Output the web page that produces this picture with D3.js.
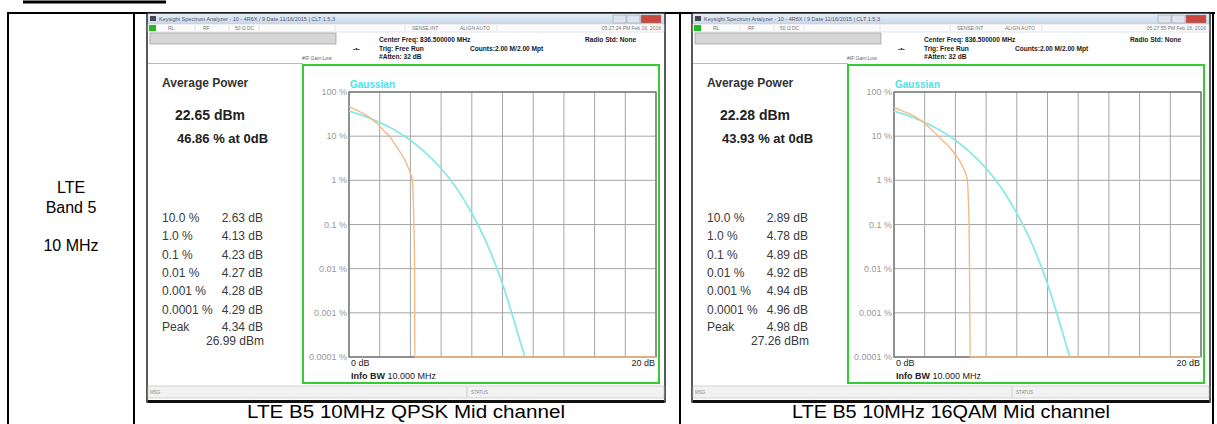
<!DOCTYPE html>
<meta charset="utf-8">
<style>
body { margin: 0; background: #fff; }
svg { font-family: "Liberation Sans", Arial, sans-serif; display: block; }
</style>
<svg width="1217" height="424"></svg>
<script src="https://cdn.jsdelivr.net/npm/d3@7/dist/d3.min.js"></script>
<script>

// ---- data ----
var rowLabels = ["LTE", "Band 5", "10 MHz"]
var captions = ["LTE B5 10MHz QPSK Mid channel", "LTE B5 10MHz 16QAM Mid channel"]
var timestamps = ["05:27:24 PM Feb 16, 2016", "05:27:55 PM Feb 16, 2016"]

var yTicks = [100, 10, 1, 0.1, 0.01, 0.001, 0.0001]
var yTickLabels = ["100 %", "10 %", "1 %", "0.1 %", "0.01 %", "0.001 %", "0.0001 %"]
var xGrid = [0, 2, 4, 6, 8, 10, 12, 14, 16, 18, 20]

var statLabels = ["10.0 %", "1.0 %", "0.1 %", "0.01 %", "0.001 %", "0.0001 %"]
var qpskStats = [2.63, 4.13, 4.23, 4.27, 4.28, 4.29]
var qamStats = [2.89, 4.78, 4.89, 4.92, 4.94, 4.96]
var avgPower = [22.65, 22.28]
var atZero = [46.86, 43.93]
var peakDb = [4.34, 4.98]
var peakDbm = [26.99, 27.26]

// [dB, %] points
var gaussian = [[0, 36.8], [1, 28.4], [2, 20.5], [3, 13.6], [4, 8.1], [5, 4.2], [6, 1.87],
  [7, 0.67], [8, 0.18], [9, 0.036], [10, 0.0045], [10.5, 0.0013], [11, 0.00034], [11.45, 0.0001]]
var qpskCurve = [[0, 46.86], [0.5, 39], [1, 31.5], [1.5, 24], [2, 17], [2.3, 13], [2.63, 10],
  [3, 6.5], [3.4, 4], [3.7, 2.6], [3.95, 1.6], [4.13, 1.0], [4.18, 0.4], [4.23, 0.1],
  [4.27, 0.01], [4.28, 0.001], [4.29, 0.0001], [20, 0.0001]]
var qamCurve = [[0, 43.93], [0.5, 38], [1, 32], [1.5, 26], [2, 19.5], [2.5, 13.5], [2.89, 10],
  [3.3, 7.2], [3.7, 5.2], [4.0, 3.8], [4.3, 2.7], [4.55, 1.8], [4.7, 1.3], [4.78, 1.0],
  [4.84, 0.4], [4.89, 0.1], [4.92, 0.01], [4.94, 0.001], [4.96, 0.0001], [20, 0.0001]]

var panels = [
  {x0: 147, stats: qpskStats, curve: qpskCurve, i: 0},
  {x0: 692, stats: qamStats, curve: qamCurve, i: 1}
]

var svg = d3.select("svg")

// ---- table lines ----
var lines = svg.append("g").attr("stroke", "#000")
lines.append("line").attr("x1", 23).attr("x2", 166).attr("y1", 2).attr("y2", 2).attr("stroke-width", 3)
lines.append("line").attr("x1", 7).attr("x2", 1215).attr("y1", 13).attr("y2", 13).attr("stroke-width", 2)
;[8, 134, 680, 1213].forEach(function(xx) {
  lines.append("line").attr("x1", xx).attr("x2", xx).attr("y1", 12).attr("y2", 424).attr("stroke-width", 2)
})

svg.append("g").selectAll("text")
  .data(rowLabels)
  .enter().append("text")
    .attr("x", 71)
    .attr("y", function(d, i) { return [193, 213, 251][i] })
    .attr("text-anchor", "middle")
    .style("font-size", "16px")
    .text(function(d) { return d })

// ---- screenshots ----
var x = d3.scaleLinear().domain([0, 20]).range([0, 307])
var y = d3.scaleLog().domain([0.0001, 100]).range([265, 0])

var line = d3.line()
  .x(function(d) { return x(d[0]) })
  .y(function(d) { return y(d[1]) })
  .curve(d3.curveMonotoneX)

panels.forEach(function(p) {
  var g = svg.append("g").attr("transform", "translate(" + p.x0 + ",0)")

  // window frame
  g.append("rect").attr("x", 0).attr("y", 13).attr("width", 518).attr("height", 389)
    .attr("fill", "#fff").attr("stroke", "#222").attr("stroke-width", 1.5)

  // title bar
  var grad = svg.append("defs").append("linearGradient")
    .attr("id", "tb" + p.i).attr("x1", 0).attr("x2", 0).attr("y1", 0).attr("y2", 1)
  grad.append("stop").attr("offset", "0%").attr("stop-color", "#e6eef8")
  grad.append("stop").attr("offset", "100%").attr("stop-color", "#c8d7ea")
  g.append("rect").attr("x", 1).attr("y", 14).attr("width", 516).attr("height", 10).attr("fill", "url(#tb" + p.i + ")")
  g.append("rect").attr("x", 3).attr("y", 16).attr("width", 6).attr("height", 5).attr("fill", "#445")
  g.append("text").attr("x", 12).attr("y", 21).style("font-size", "5.5px").attr("fill", "#556")
    .text("Keysight Spectrum Analyzer - 10 - 4R6X / 9 Date 11/16/2015 | CLT 1.5.3")
  ;[[466, "#dde4ee"], [480, "#dde4ee"], [494, "#c9473c"]].forEach(function(b) {
    g.append("rect").attr("x", b[0]).attr("y", 15).attr("width", b[1] === "#c9473c" ? 20 : 13).attr("height", 8)
      .attr("fill", b[1]).attr("stroke", "#8a96a8").attr("stroke-width", 0.5)
  })

  // toolbar row
  g.append("rect").attr("x", 1).attr("y", 24).attr("width", 516).attr("height", 8).attr("fill", "#fbfbfb")
    .attr("stroke", "#ccc").attr("stroke-width", 0.5)
  g.append("rect").attr("x", 2).attr("y", 25).attr("width", 7).attr("height", 6).attr("fill", "#22bb22")
  var tb = g.append("g").style("font-size", "5px").attr("fill", "#777")
  ;[[21, "RL"], [56, "RF"], [88, "50 Ω"], [100, "DC"], [265, "SENSE:INT"], [313, "ALIGN AUTO"]].forEach(function(t) {
    tb.append("text").attr("x", t[0]).attr("y", 30).text(t[1])
  })
  ;[48, 82, 112, 188, 258, 350].forEach(function(s) {
    g.append("line").attr("x1", s).attr("x2", s).attr("y1", 25).attr("y2", 31).attr("stroke", "#ccc").attr("stroke-width", 0.5)
  })
  tb.append("text").attr("x", 514).attr("y", 30).attr("text-anchor", "end").text(timestamps[p.i])

  // input box + header text
  g.append("rect").attr("x", 3).attr("y", 33).attr("width", 186).attr("height", 11)
    .attr("fill", "#d6d6d6").attr("stroke", "#999").attr("stroke-width", 0.7)
  var hd = g.append("g").style("font-size", "6.6px").style("font-weight", "bold").attr("fill", "#1a1a1a")
  hd.append("text").attr("x", 232).attr("y", 42).text("Center Freq: 836.500000 MHz")
  hd.append("text").attr("x", 232).attr("y", 51).text("Trig: Free Run")
  hd.append("text").attr("x", 232).attr("y", 59).text("#Atten: 32 dB")
  hd.append("text").attr("x", 323).attr("y", 51).text("Counts:2.00 M/2.00 Mpt")
  hd.append("text").attr("x", 438).attr("y", 42).text("Radio Std: None")
  hd.append("text").attr("x", 206).attr("y", 51).text("-•-")
  g.append("text").attr("x", 155).attr("y", 60).style("font-size", "5px").attr("fill", "#666").text("#IF Gain:Low")

  // left info panel
  g.append("line").attr("x1", 1).attr("x2", 156).attr("y1", 63.5).attr("y2", 63.5).attr("stroke", "#bbb")
  g.append("text").attr("x", 15).attr("y", 87).style("font-size", "12px").style("font-weight", "bold")
    .attr("fill", "#333").text("Average Power")
  g.append("text").attr("x", 28).attr("y", 120).style("font-size", "14px").style("font-weight", "bold")
    .attr("fill", "#222").text(avgPower[p.i].toFixed(2) + " dBm")
  g.append("text").attr("x", 30).attr("y", 143).style("font-size", "13px").style("font-weight", "bold")
    .attr("fill", "#222").text(atZero[p.i].toFixed(2) + " % at 0dB")

  var st = g.append("g").style("font-size", "12px").attr("fill", "#3a3a3a")
  statLabels.forEach(function(lab, k) {
    var yy = 222 + 18.3 * k
    st.append("text").attr("x", 15).attr("y", yy).text(lab)
    st.append("text").attr("x", 116).attr("y", yy).attr("text-anchor", "end").text(p.stats[k].toFixed(2) + " dB")
  })
  st.append("text").attr("x", 15).attr("y", 331).text("Peak")
  st.append("text").attr("x", 116).attr("y", 331).attr("text-anchor", "end").text(peakDb[p.i].toFixed(2) + " dB")
  st.append("text").attr("x", 117).attr("y", 345).attr("text-anchor", "end").text(peakDbm[p.i].toFixed(2) + " dBm")

  // status bar
  g.append("rect").attr("x", 1).attr("y", 386).attr("width", 516).attr("height", 12)
    .attr("fill", "#f2f2f2").attr("stroke", "#bbb").attr("stroke-width", 0.6)
  g.append("text").attr("x", 3).attr("y", 394).style("font-size", "4.5px").attr("fill", "#888").text("MSG")
  g.append("line").attr("x1", 320).attr("x2", 320).attr("y1", 387).attr("y2", 397).attr("stroke", "#ccc")
  g.append("text").attr("x", 324).attr("y", 394).style("font-size", "4.5px").attr("fill", "#888").text("STATUS")
  g.append("line").attr("x1", 1).attr("x2", 517).attr("y1", 401.5).attr("y2", 401.5).attr("stroke", "#111").attr("stroke-width", 3)

  // green measurement frame
  g.append("rect").attr("x", 156).attr("y", 65).attr("width", 356).attr("height", 318)
    .attr("fill", "none").attr("stroke", "#33cc33").attr("stroke-width", 2)

  // plot
  var pl = g.append("g").attr("transform", "translate(202,92)")
  pl.append("g").selectAll("line").data(xGrid).enter().append("line")
    .attr("x1", x).attr("x2", x).attr("y1", 0).attr("y2", 265)
    .attr("stroke", "#a6a6a6").attr("stroke-width", 1)
  pl.append("g").selectAll("line").data(yTicks).enter().append("line")
    .attr("x1", 0).attr("x2", 307).attr("y1", y).attr("y2", y)
    .attr("stroke", "#a6a6a6").attr("stroke-width", 1)
  pl.append("rect").attr("width", 307).attr("height", 265)
    .attr("fill", "none").attr("stroke", "#6e6e6e").attr("stroke-width", 1.3)
  pl.append("g").selectAll("text").data(yTicks).enter().append("text")
    .attr("x", -2).attr("y", y).attr("dy", "0.35em").attr("text-anchor", "end")
    .style("font-size", "9px").attr("fill", "#999")
    .text(function(d, k) { return yTickLabels[k] })

  pl.append("path").datum(gaussian).attr("d", line)
    .attr("fill", "none").attr("stroke", "#8ae8e6").attr("stroke-width", 1.8)
  pl.append("path").datum(p.curve).attr("d", line)
    .attr("fill", "none").attr("stroke", "#f4ba86").attr("stroke-width", 1.4)

  pl.append("text").attr("x", 1).attr("y", -4).style("font-size", "10px").style("font-weight", "bold")
    .attr("fill", "#4fe2e8").text("Gaussian")
  pl.append("text").attr("x", 2).attr("y", 274).style("font-size", "9px").attr("fill", "#222").text("0 dB")
  pl.append("text").attr("x", 306).attr("y", 274).attr("text-anchor", "end").style("font-size", "9px")
    .attr("fill", "#222").text("20 dB")
  var ib = pl.append("text").attr("x", 2).attr("y", 287).style("font-size", "9px").attr("fill", "#222")
  ib.append("tspan").style("font-weight", "bold").text("Info BW")
  ib.append("tspan").text(" 10.000 MHz")

  // caption
  g.append("text").attr("x", 259).attr("y", 418).attr("text-anchor", "middle")
    .style("font-size", "18px").attr("textLength", 318).attr("lengthAdjust", "spacingAndGlyphs")
    .text(captions[p.i])
})

</script>
